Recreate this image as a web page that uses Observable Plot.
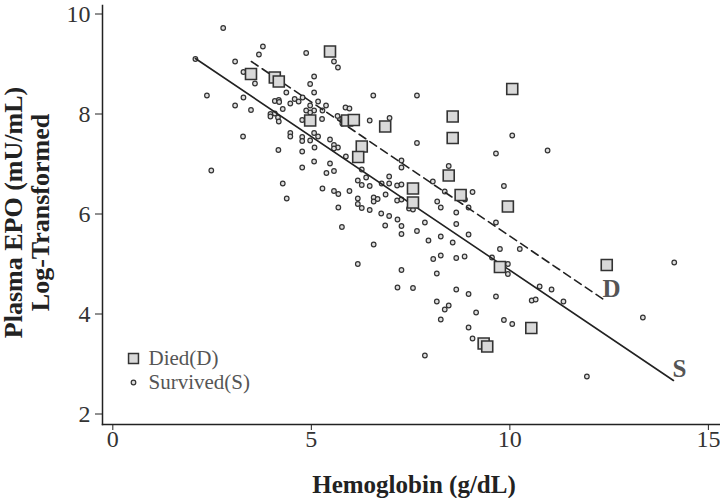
<!DOCTYPE html>
<html><head><meta charset="utf-8">
<script src="https://cdn.jsdelivr.net/npm/d3@7"></script>
<script src="https://cdn.jsdelivr.net/npm/@observablehq/plot@0.6"></script>
<style>body{margin:0;background:#fff;}</style>
</head><body><div id="chart"></div>
<script>
// Survived (S): hemoglobin (g/dL) and log-transformed plasma EPO
const survivedHb = [2.78,2.08,3.78,3.68,3.08,4.87,5.57,5.67,3.29,3.58,5.07,4.97,5.07,2.37,3.29,3.08,3.48,4.37,4.08,4.18,4.19,4.28,4.47,4.58,4.68,4.78,4.97,5.07,4.97,4.87,5.17,5.37,5.28,5.27,4.77,5.66,3.97,3.97,4.08,4.16,4.18,4.47,4.47,4.77,4.77,5.07,5.17,4.97,5.47,5.57,5.67,5.57,5.08,4.77,3.28,4.17,5.07,4.77,5.47,2.48,5.87,5.38,5.57,4.28,4.38,5.28,5.57,5.68,5.96,6.17,6.17,6.17,5.68,6.56,7.66,5.86,5.96,5.78,5.78,6.47,6.97,7.66,7.27,7.27,8.46,6.27,10.06,9.65,10.95,6.38,6.96,6.27,6.47,6.77,6.96,7.16,7.27,8.06,8.36,9.06,6.27,6.57,6.57,6.67,6.87,6.47,7.16,7.27,7.46,7.56,8.17,8.26,8.87,8.96,8.65,6.76,6.96,7.17,6.86,7.27,7.27,7.66,7.86,8.65,5.77,6.57,7.95,8.26,8.56,8.96,8.07,8.26,8.65,8.86,6.17,7.27,8.16,7.17,7.56,8.65,8.96,8.16,8.46,8.36,9.85,9.65,9.75,10.25,9.55,9.95,9.95,9.65,10.75,11.05,10.55,10.65,11.35,14.14,9.15,8.26,8.96,9.06,7.86,9.85,10.06,13.35,11.94];
const survivedEpo = [9.72,9.10,9.35,9.19,9.05,9.22,9.05,8.93,8.84,8.61,8.75,8.60,8.43,8.37,8.33,8.17,8.08,8.43,8.26,8.28,8.24,8.10,8.21,8.30,8.25,8.33,8.17,8.07,8.03,8.07,8.25,8.17,8.07,7.90,7.88,7.96,8.00,7.95,8.01,7.93,7.85,7.62,7.55,7.54,7.46,7.62,7.55,7.47,7.49,7.38,7.33,7.31,7.33,7.25,7.55,7.28,7.05,6.93,7.01,6.87,7.15,6.82,6.86,6.61,6.31,6.51,6.46,6.40,6.46,6.67,6.31,6.20,6.13,8.37,8.37,8.13,8.11,7.91,7.81,7.87,7.92,7.42,7.07,6.93,6.96,6.89,7.57,7.21,7.27,6.73,6.75,6.58,6.56,6.61,6.61,6.57,6.59,6.65,6.45,6.44,6.12,6.33,6.25,6.30,6.39,6.08,6.27,6.29,6.11,6.09,6.25,6.13,6.29,6.13,6.03,6.01,5.96,5.89,5.77,5.76,5.60,5.66,5.83,5.80,5.74,5.39,5.47,5.55,5.43,5.59,5.10,5.17,5.12,5.15,5.00,4.88,4.81,4.53,4.52,4.49,4.40,4.25,4.17,4.09,6.56,5.83,5.30,5.30,5.13,5.00,4.80,4.35,4.55,4.49,4.27,4.29,4.25,5.03,4.03,3.89,3.73,3.51,3.17,3.88,3.80,3.93,2.75];
// Died (D)
const diedHb = [5.47,3.48,4.08,4.18,4.97,5.90,6.07,6.86,8.56,8.56,6.27,6.18,10.06,7.56,8.46,8.76,7.56,9.95,9.75,12.44,9.34,9.43,10.54];
const diedEpo = [9.25,8.80,8.73,8.65,7.87,7.87,7.88,7.75,7.95,7.52,7.35,7.14,8.50,6.51,6.77,6.38,6.23,6.15,4.94,4.98,3.41,3.35,3.72];
// Fitted lines (endpoints)
const fitSHb = [2.08,14.12];
const fitSEpo = [9.11,2.67];
const fitDHb = [3.49,12.38];
const fitDEpo = [9.05,4.28];
// Line labels
const lineLabels = ["D","S"];
const lineLabelHb = [12.56,14.27];
const lineLabelEpo = [4.51,2.91];
// Ticks
const xTicks = [0,5,10,15];
const yTicks = [2,4,6,8,10];
const legendLabels = ["Died(D)","Survived(S)"];

const survived = survivedHb.map((x,i)=>({hb:x, epo:survivedEpo[i]}));
const died = diedHb.map((x,i)=>({hb:x, epo:diedEpo[i]}));
const fitS = fitSHb.map((x,i)=>({hb:x, epo:fitSEpo[i]}));
const fitD = fitDHb.map((x,i)=>({hb:x, epo:fitDEpo[i]}));
const labels = lineLabels.map((t,i)=>({t, hb:lineLabelHb[i], epo:lineLabelEpo[i]}));

const serif = "'Liberation Serif', 'DejaVu Serif', serif";
const chart = Plot.plot({
  width:720, height:498,
  marginLeft:102, marginRight:1, marginTop:5, marginBottom:74,
  x:{domain:[-0.26,15.28], label:null},
  y:{domain:[1.79,10.17], label:null},
  style:{fontFamily:serif, background:"#fff", color:"#222", fontSize:"22px"},
  marks:[
    Plot.axisY(yTicks,{tickSize:7, tickPadding:5, tickFormat:d3.format("d"), fontSize:24, fill:"#333", stroke:"#222", label:null}),
    Plot.axisX(xTicks,{tickSize:6, tickPadding:-1, tickFormat:d3.format("d"), fontSize:24, fill:"#333", stroke:"#222", label:null}),
    Plot.frame({anchor:"left", stroke:"#222", strokeWidth:1.5}),
    Plot.frame({anchor:"bottom", stroke:"#222", strokeWidth:1.5}),
    Plot.dot(survived,{x:"hb", y:"epo", r:2.3, fill:"#ddd", stroke:"#333", strokeWidth:1.2}),
    Plot.line(fitS,{x:"hb", y:"epo", stroke:"#222", strokeWidth:1.6}),
    Plot.line(fitD,{x:"hb", y:"epo", stroke:"#222", strokeWidth:1.6, strokeDasharray:"8,5"}),
    Plot.dot(died,{x:"hb", y:"epo", symbol:"square", r:6.2, fill:"#d9d9d9", stroke:"#333", strokeWidth:1.6}),
    Plot.text(labels,{x:"hb", y:"epo", text:"t", fontSize:25, fontWeight:"bold", fill:"#555", textAnchor:"middle", lineAnchor:"middle"}),
    // legend
    Plot.dot([legendLabels[0]],{frameAnchor:"bottom-left", dx:31, dy:-66, symbol:"square", r:5.6, fill:"#d9d9d9", stroke:"#333", strokeWidth:1.5}),
    Plot.dot([legendLabels[1]],{frameAnchor:"bottom-left", dx:31, dy:-42, r:2.3, fill:"#ddd", stroke:"#333", strokeWidth:1.2}),
    Plot.text([legendLabels[0]],{frameAnchor:"bottom-left", dx:46, dy:-66, text:d=>d, textAnchor:"start", lineAnchor:"middle", fontSize:21, fill:"#555"}),
    Plot.text([legendLabels[1]],{frameAnchor:"bottom-left", dx:46, dy:-42, text:d=>d, textAnchor:"start", lineAnchor:"middle", fontSize:21, fill:"#555"}),
    // axis titles
    Plot.text(["Hemoglobin (g/dL)"],{frameAnchor:"bottom", dx:3, dy:60, text:d=>d, textAnchor:"middle", lineAnchor:"middle", fontSize:25, fontWeight:"bold", fill:"#222"}),
    Plot.text(["Plasma EPO (mU/mL)\nLog-Transformed"],{frameAnchor:"left", dx:-75.5, dy:-2.5, rotate:-90, text:d=>d, textAnchor:"middle", lineAnchor:"middle", fontSize:26, fontWeight:"bold", fill:"#222", lineHeight:1.04})
  ]
});
document.getElementById("chart").appendChild(chart);
</script></body></html>
